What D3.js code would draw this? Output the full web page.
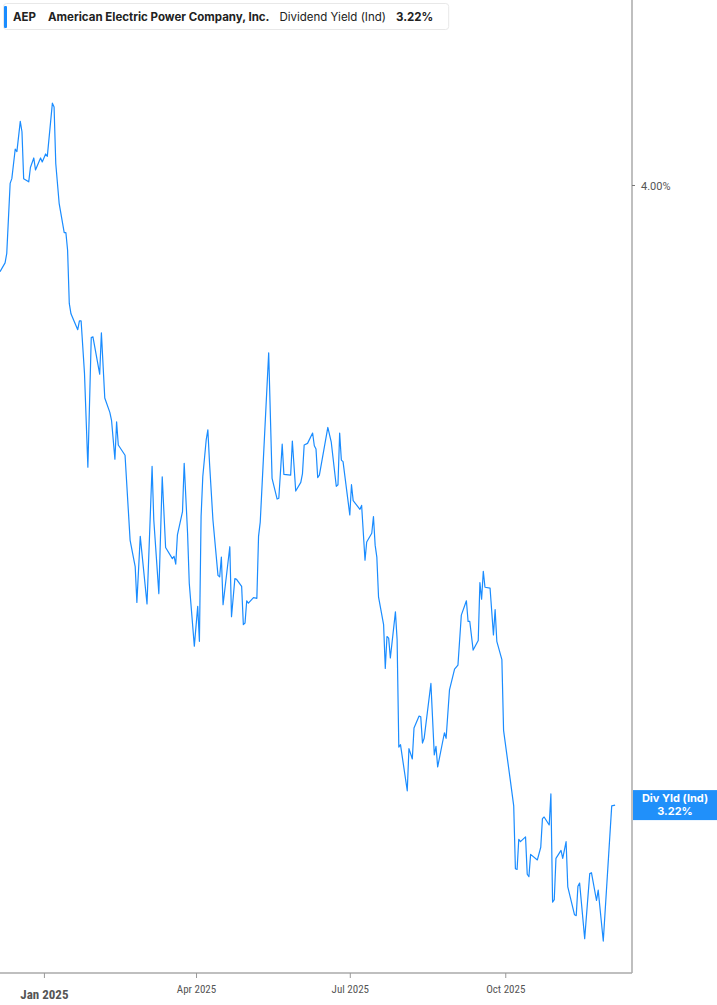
<!DOCTYPE html>
<html>
<head>
<meta charset="utf-8">
<script src="https://cdn.jsdelivr.net/npm/d3@7"></script>
<style>
  body { margin: 0; background: #fff; }
  svg { display: block; }
</style>
</head>
<body>
<div id="chart"></div>
<script>
// dividend yield (%), by date
const dates = [
  "2024-12-06","2024-12-09","2024-12-10","2024-12-12","2024-12-13","2024-12-15","2024-12-16","2024-12-18","2024-12-19","2024-12-20",
  "2024-12-23","2024-12-24","2024-12-26","2024-12-27","2024-12-30","2024-12-31","2025-01-02","2025-01-03","2025-01-06","2025-01-07",
  "2025-01-08","2025-01-10","2025-01-13","2025-01-14","2025-01-15","2025-01-16","2025-01-17","2025-01-21","2025-01-22","2025-01-23",
  "2025-01-25","2025-01-27","2025-01-29","2025-01-30","2025-02-03","2025-02-04","2025-02-06","2025-02-09","2025-02-10","2025-02-12",
  "2025-02-13","2025-02-14","2025-02-18","2025-02-21","2025-02-24","2025-02-25","2025-02-27","2025-03-03","2025-03-06","2025-03-07",
  "2025-03-10","2025-03-12","2025-03-14","2025-03-18","2025-03-19","2025-03-20","2025-03-21","2025-03-24","2025-03-25","2025-03-27",
  "2025-03-28","2025-03-31","2025-04-02","2025-04-03","2025-04-04","2025-04-05","2025-04-07","2025-04-08","2025-04-09","2025-04-11",
  "2025-04-14","2025-04-15","2025-04-16","2025-04-17","2025-04-21","2025-04-22","2025-04-24","2025-04-25","2025-04-28","2025-04-29",
  "2025-04-30","2025-05-01","2025-05-02","2025-05-05","2025-05-07","2025-05-08","2025-05-09","2025-05-14","2025-05-16","2025-05-19",
  "2025-05-20","2025-05-22","2025-05-23","2025-05-27","2025-05-28","2025-05-30","2025-06-02","2025-06-03","2025-06-04","2025-06-06",
  "2025-06-09","2025-06-10","2025-06-11","2025-06-12","2025-06-13","2025-06-18","2025-06-20","2025-06-23","2025-06-24","2025-06-25",
  "2025-06-26","2025-06-27","2025-07-01","2025-07-02","2025-07-03","2025-07-07","2025-07-08","2025-07-10","2025-07-11","2025-07-14",
  "2025-07-15","2025-07-16","2025-07-17","2025-07-18","2025-07-21","2025-07-22","2025-07-23","2025-07-24","2025-07-25","2025-07-28",
  "2025-07-29","2025-07-30","2025-07-31","2025-08-04","2025-08-05","2025-08-07","2025-08-08","2025-08-11","2025-08-12","2025-08-13",
  "2025-08-14","2025-08-18","2025-08-20","2025-08-21","2025-08-22","2025-08-26","2025-08-27","2025-08-29","2025-09-01","2025-09-03",
  "2025-09-05","2025-09-08","2025-09-09","2025-09-10","2025-09-12","2025-09-15","2025-09-16","2025-09-17","2025-09-18","2025-09-19",
  "2025-09-22","2025-09-24","2025-09-25","2025-09-26","2025-09-29","2025-09-30","2025-10-04","2025-10-06","2025-10-07","2025-10-08",
  "2025-10-09","2025-10-10","2025-10-13","2025-10-14","2025-10-15","2025-10-16","2025-10-20","2025-10-22","2025-10-23","2025-10-24",
  "2025-10-27","2025-10-28","2025-10-29","2025-10-30","2025-10-31","2025-11-03","2025-11-04","2025-11-06","2025-11-07","2025-11-11",
  "2025-11-12","2025-11-13","2025-11-14","2025-11-17","2025-11-20","2025-11-21","2025-11-24","2025-11-25","2025-11-28","2025-12-03",
  "2025-12-05"
];
const yields = [
  3.891,3.902,3.914,4.002,4.008,4.045,4.042,4.080,4.067,4.008,
  4.004,4.022,4.034,4.019,4.034,4.029,4.039,4.036,4.103,4.098,
  4.027,3.977,3.940,3.940,3.918,3.851,3.838,3.818,3.829,3.829,
  3.763,3.645,3.808,3.809,3.762,3.814,3.732,3.714,3.704,3.655,
  3.702,3.673,3.660,3.553,3.520,3.475,3.558,3.473,3.646,3.579,
  3.486,3.633,3.544,3.530,3.533,3.523,3.560,3.589,3.650,3.562,
  3.499,3.420,3.470,3.426,3.583,3.633,3.679,3.692,3.650,3.579,
  3.509,3.507,3.532,3.472,3.545,3.457,3.505,3.504,3.495,3.447,
  3.449,3.477,3.474,3.481,3.480,3.558,3.576,3.789,3.631,3.605,
  3.606,3.674,3.636,3.635,3.678,3.615,3.626,3.637,3.673,3.675,
  3.688,3.672,3.668,3.632,3.635,3.695,3.677,3.621,3.623,3.688,
  3.654,3.652,3.585,3.623,3.603,3.592,3.597,3.528,3.551,3.562,
  3.583,3.547,3.532,3.482,3.447,3.392,3.432,3.430,3.405,3.463,
  3.428,3.293,3.296,3.238,3.291,3.278,3.317,3.332,3.331,3.298,
  3.304,3.373,3.283,3.294,3.268,3.311,3.304,3.365,3.391,3.396,
  3.459,3.477,3.451,3.451,3.415,3.427,3.500,3.479,3.514,3.494,
  3.493,3.434,3.466,3.426,3.403,3.314,3.251,3.219,3.140,3.139,
  3.177,3.174,3.180,3.133,3.130,3.158,3.151,3.167,3.203,3.205,
  3.195,3.234,3.098,3.101,3.153,3.163,3.153,3.174,3.117,3.082,
  3.081,3.118,3.122,3.052,3.134,3.135,3.100,3.113,3.049,3.219,
  3.220
];
const xTicks = ["2025-01-01","2025-04-01","2025-07-01","2025-10-01"];
const yTicks = [4.00];
const ticker = "AEP";
const company = "American Electric Power Company, Inc.";
const metric = "Dividend Yield (Ind)";
const lastLabel = "Div Yld (Ind)";
const lastValue = 3.22;

const width = 717, height = 1005;
const margin = ({top: 0, right: 85, bottom: 32, left: 0});
const blue = "#1a8cff";
const parse = d3.utcParse("%Y-%m-%d");

const data = dates.map((d, i) => ({date: parse(d), value: yields[i]}));

const svg = d3.select("#chart")
  .append("svg")
  .attr("width", width)
  .attr("height", height)
  .attr("viewBox", [0, 0, width, height]);

const x = d3.scaleUtc()
  .domain([parse("2024-12-06"), parse("2025-12-15")])
  .range([margin.left, width - margin.right]);

const y = d3.scaleLinear()
  .domain([3.0088, 4.2327])
  .range([height - margin.bottom, margin.top]);

const xAxis = g => g
  .attr("transform", `translate(0,${height - margin.bottom})`)
  .call(d3.axisBottom(x)
    .tickValues(xTicks.map(parse))
    .tickSize(5)
    .tickPadding(7)
    .tickFormat(d3.utcFormat("%b %Y")))
  .call(g => g.select(".domain").attr("stroke", "#aaa").attr("stroke-width", 1.5)
    .attr("d", `M${margin.left},0H${width - margin.right}`))
  .call(g => g.selectAll(".tick line").attr("stroke", "#999"))
  .call(g => g.selectAll(".tick text")
    .attr("fill", "#555")
    .attr("font-family", "'Liberation Sans Narrow', 'Roboto Condensed', 'Arial Narrow', sans-serif")
    .attr("font-size", 11))
  .call(g => g.select(".tick:first-of-type text")
    .attr("font-weight", "bold")
    .attr("font-size", 13)
    .attr("dy", "1.05em"));

const yAxis = g => g
  .attr("transform", `translate(${width - margin.right},0)`)
  .call(d3.axisRight(y)
    .tickValues(yTicks)
    .tickSize(3)
    .tickPadding(6)
    .tickFormat(d => d3.format(".2f")(d) + "%"))
  .call(g => g.select(".domain").attr("stroke", "#aaa").attr("stroke-width", 1.5)
    .attr("d", `M0,0V${height - margin.bottom}`))
  .call(g => g.selectAll(".tick line").attr("stroke", "#777"))
  .call(g => g.selectAll(".tick text")
    .attr("fill", "#555")
    .attr("font-family", "Roboto, sans-serif")
    .attr("font-size", 11)
    .attr("dy", "0.45em"));

const line = d3.line()
  .x(d => x(d.date))
  .y(d => y(d.value));

svg.append("path")
  .datum(data)
  .attr("fill", "none")
  .attr("stroke", blue)
  .attr("stroke-width", 1.2)
  .attr("stroke-linejoin", "round")
  .attr("d", line);

svg.append("g").call(xAxis);
svg.append("g").call(yAxis);

// last value flag on the right axis
const flag = svg.append("g")
  .attr("transform", `translate(${width - margin.right + 1},${y(lastValue)})`);
flag.append("rect")
  .attr("x", 0)
  .attr("y", -15)
  .attr("width", margin.right)
  .attr("height", 30)
  .attr("fill", "#2090fa");
flag.append("text")
  .attr("x", 42)
  .attr("y", -3)
  .attr("text-anchor", "middle")
  .attr("fill", "#fff")
  .attr("font-family", "Inter, sans-serif")
  .attr("font-weight", "bold")
  .attr("font-size", 11)
  .text(lastLabel);
flag.append("text")
  .attr("x", 42)
  .attr("y", 10)
  .attr("text-anchor", "middle")
  .attr("fill", "#fff")
  .attr("font-family", "Inter, sans-serif")
  .attr("font-weight", "bold")
  .attr("font-size", 11)
  .text(d3.format(".2f")(lastValue) + "%");

// header legend box, items laid out one after another
const header = svg.append("g")
  .attr("font-family", "Inter, sans-serif")
  .attr("font-size", 11.5)
  .attr("fill", "#222");
const box = header.append("rect")
  .attr("x", 3.5)
  .attr("y", 3.5)
  .attr("height", 26)
  .attr("rx", 3)
  .attr("fill", "#fff")
  .attr("stroke", "#e8e8e8");
header.append("rect")
  .attr("x", 4)
  .attr("y", 6)
  .attr("width", 3)
  .attr("height", 22)
  .attr("rx", 1)
  .attr("fill", blue);

const items = [
  {text: ticker, bold: true, gap: 12},
  {text: company, bold: true, gap: 10},
  {text: metric, bold: false, gap: 10},
  {text: d3.format(".2f")(lastValue) + "%", bold: true, gap: 0}
];
let cx = 13;
items.forEach(it => {
  const t = header.append("text")
    .attr("x", cx)
    .attr("y", 21)
    .attr("font-weight", it.bold ? "bold" : "normal")
    .text(it.text);
  cx += t.node().getComputedTextLength() + it.gap;
});
box.attr("width", Math.max(cx + 12, 441));
</script>
</body>
</html>
